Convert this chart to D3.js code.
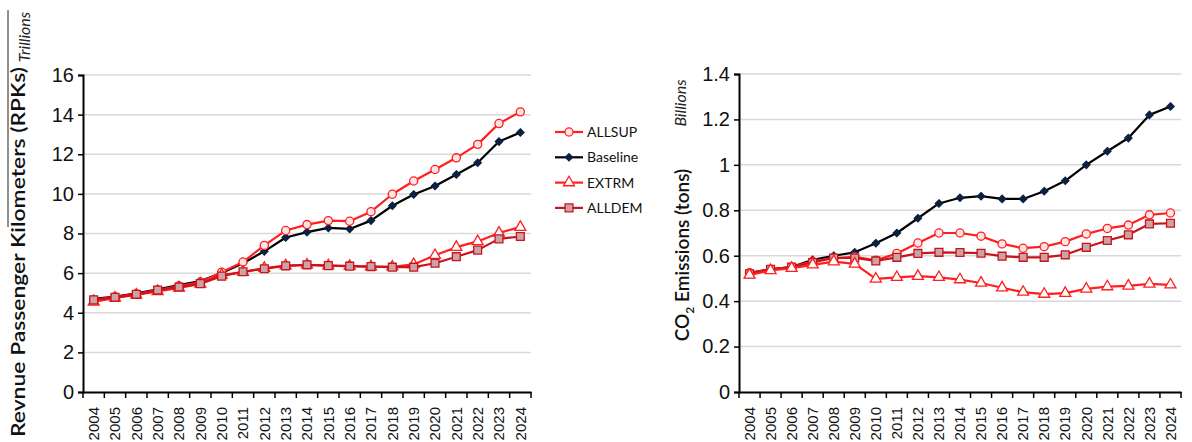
<!DOCTYPE html>
<html>
<head>
<meta charset="utf-8">
<script src="https://cdn.jsdelivr.net/npm/d3@7"></script>
<style>
  body { margin: 0; background: #fff; }
  svg { display: block; font-family: Lato, "Open Sans", sans-serif; }
</style>
</head>
<body>
<script>
const width = 1192;
const height = 442;

const years = ["2004", "2005", "2006", "2007", "2008", "2009", "2010", "2011", "2012", "2013", "2014",
  "2015", "2016", "2017", "2018", "2019", "2020", "2021", "2022", "2023", "2024"];

// revenue passenger km, trillions
const rpkAllsup = [4.65, 4.8, 4.95, 5.15, 5.35, 5.55, 6.05, 6.56, 7.4, 8.15, 8.45, 8.65, 8.62, 9.1, 9.98, 10.65, 11.23, 11.82, 12.5, 13.55, 14.14];
const rpkBaseline = [4.7, 4.82, 4.98, 5.18, 5.4, 5.6, 6.0, 6.5, 7.1, 7.8, 8.07, 8.28, 8.23, 8.65, 9.4, 9.97, 10.4, 10.98, 11.57, 12.64, 13.1];
const rpkExtrm = [4.55, 4.75, 4.9, 5.08, 5.25, 5.45, 5.9, 6.05, 6.25, 6.38, 6.42, 6.38, 6.35, 6.33, 6.32, 6.44, 6.9, 7.31, 7.6, 8.03, 8.32];
const rpkAlldem = [4.65, 4.78, 4.93, 5.15, 5.3, 5.47, 5.85, 6.07, 6.22, 6.37, 6.42, 6.38, 6.35, 6.33, 6.3, 6.3, 6.5, 6.83, 7.16, 7.73, 7.85];

// CO2 emissions, billions of tons
const co2Allsup = [0.525, 0.54, 0.55, 0.575, 0.59, 0.595, 0.58, 0.61, 0.656, 0.70, 0.70, 0.686, 0.652, 0.633, 0.64, 0.662, 0.696, 0.72, 0.735, 0.78, 0.788];
const co2Baseline = [0.525, 0.54, 0.55, 0.582, 0.6, 0.615, 0.655, 0.70, 0.765, 0.83, 0.855, 0.862, 0.85, 0.85, 0.884, 0.93, 1.0, 1.06, 1.118, 1.22, 1.257];
const co2Extrm = [0.515, 0.535, 0.545, 0.56, 0.574, 0.564, 0.498, 0.505, 0.51, 0.505, 0.495, 0.48, 0.459, 0.44, 0.431, 0.435, 0.454, 0.464, 0.467, 0.476, 0.472];
const co2Alldem = [0.52, 0.54, 0.55, 0.57, 0.59, 0.59, 0.577, 0.593, 0.61, 0.615, 0.614, 0.611, 0.598, 0.593, 0.593, 0.604, 0.637, 0.667, 0.692, 0.74, 0.743];

const rpkTicks = [0, 2, 4, 6, 8, 10, 12, 14, 16];
const co2Ticks = [0, 0.2, 0.4, 0.6, 0.8, 1, 1.2, 1.4];

const seriesNames = ["ALLSUP", "Baseline", "EXTRM", "ALLDEM"];

const styles = {
  ALLSUP: { line: "#ff1f1f", fill: "#fde3e3", stroke: "#ff1f1f", symbol: d3.symbolCircle, size: 52 },
  Baseline: { line: "#000", fill: "#0c2142", stroke: "#0c2142", symbol: d3.symbolDiamond2, size: 34 },
  EXTRM: { line: "#ff1f1f", fill: "#fff", stroke: "#ff1f1f", symbol: d3.symbolTriangle, size: 52 },
  ALLDEM: { line: "#c8141c", fill: "#cba3a5", stroke: "#c8141c", symbol: d3.symbolSquare, size: 62 }
};

const svg = d3.select("body").append("svg")
  .attr("width", width)
  .attr("height", height);

function drawChart(box, ticks, fmt, series) {
  const x = d3.scaleBand().domain(years).range([box.left, box.right]);
  const y = d3.scaleLinear().domain([0, ticks[ticks.length - 1]]).range([box.bottom, box.top]);
  const g = svg.append("g");

  g.selectAll("line.grid")
    .data(ticks.slice(1))
    .enter().append("line")
    .attr("class", "grid")
    .attr("x1", box.left).attr("x2", box.right)
    .attr("y1", d => y(d)).attr("y2", d => y(d))
    .attr("stroke", "#d9d9d9")
    .attr("stroke-width", 1.5);

  const yAxis = g.append("g")
    .attr("transform", `translate(${box.left},0)`)
    .call(d3.axisLeft(y).tickValues(ticks).tickFormat(fmt).tickSize(5).tickPadding(4));
  yAxis.select(".domain").attr("stroke-width", 2);
  yAxis.selectAll("line").attr("stroke-width", 1.5);
  yAxis.selectAll("text").attr("font-size", 20).attr("fill", "#111");

  const xAxis = g.append("g")
    .attr("transform", `translate(0,${box.bottom})`)
    .call(d3.axisBottom(x).tickSize(0).tickPadding(0));
  xAxis.select(".domain").attr("stroke-width", 2);
  xAxis.selectAll("text")
    .attr("font-size", 15)
    .attr("fill", "#111")
    .attr("text-anchor", "end")
    .attr("dy", "0.35em")
    .attr("transform", "translate(0,15) rotate(-90)")
    .attr("x", 0).attr("y", 0);

  // Excel-style tick marks sit between categories
  g.selectAll("line.xtick")
    .data(years.concat(["end"]))
    .enter().append("line")
    .attr("class", "xtick")
    .attr("x1", d => d === "end" ? box.right : x(d))
    .attr("x2", d => d === "end" ? box.right : x(d))
    .attr("y1", box.bottom).attr("y2", box.bottom + 6)
    .attr("stroke", "#000")
    .attr("stroke-width", 1.5);

  const line = d3.line()
    .x((d, i) => x(years[i]) + x.bandwidth() / 2)
    .y(d => y(d));

  series.forEach(s => {
    const st = styles[s.name];
    g.append("path")
      .datum(s.values)
      .attr("fill", "none")
      .attr("stroke", st.line)
      .attr("stroke-width", 2.2)
      .attr("stroke-linejoin", "round")
      .attr("d", line);
    g.selectAll(null)
      .data(s.values)
      .enter().append("path")
      .attr("d", d3.symbol().type(st.symbol).size(st.size))
      .attr("transform", (d, i) => `translate(${x(years[i]) + x.bandwidth() / 2},${y(d)})`)
      .attr("fill", st.fill)
      .attr("stroke", st.stroke)
      .attr("stroke-width", 1.3);
  });
}

drawChart({ left: 83, right: 531, top: 75, bottom: 392 }, rpkTicks, d3.format("d"), [
  { name: "Baseline", values: rpkBaseline },
  { name: "ALLSUP", values: rpkAllsup },
  { name: "EXTRM", values: rpkExtrm },
  { name: "ALLDEM", values: rpkAlldem }
]);

drawChart({ left: 739, right: 1181, top: 74, bottom: 392 }, co2Ticks, d => d === 0 || d === 1 ? String(d) : d3.format(".1f")(d), [
  { name: "Baseline", values: co2Baseline },
  { name: "ALLSUP", values: co2Allsup },
  { name: "ALLDEM", values: co2Alldem },
  { name: "EXTRM", values: co2Extrm }
]);

// legend
const legend = svg.append("g").attr("transform", "translate(555,132)");
seriesNames.forEach((name, i) => {
  const st = styles[name];
  const row = legend.append("g").attr("transform", `translate(0,${i * 25.3})`);
  row.append("line").attr("x1", 0).attr("x2", 28).attr("stroke", st.line).attr("stroke-width", 2.2);
  row.append("path")
    .attr("d", d3.symbol().type(st.symbol).size(st.size))
    .attr("transform", "translate(14,0)")
    .attr("fill", st.fill).attr("stroke", st.stroke).attr("stroke-width", 1.3);
  row.append("text").attr("x", 32).attr("dy", "0.35em")
    .attr("font-size", 14).attr("fill", "#111").text(name);
});

// axis titles
svg.append("line").attr("x1", 8).attr("x2", 8).attr("y1", 10).attr("y2", 227)
  .attr("stroke", "#222").attr("stroke-width", 1);

svg.append("text")
  .attr("transform", "translate(25,437) rotate(-90)")
  .attr("font-size", 19).attr("font-weight", 600).attr("fill", "#111")
  .attr("textLength", 370).attr("lengthAdjust", "spacingAndGlyphs")
  .text("Revnue Passenger Kilometers (RPKs)");

svg.append("text")
  .attr("transform", "translate(30,37) rotate(-90)")
  .attr("text-anchor", "middle")
  .attr("font-size", 16).attr("font-style", "italic").attr("fill", "#222")
  .text("Trillions");

svg.append("text")
  .attr("transform", "translate(686,103) rotate(-90)")
  .attr("text-anchor", "middle")
  .attr("font-size", 16).attr("font-style", "italic").attr("fill", "#222")
  .text("Billions");

const co2 = svg.append("text")
  .attr("transform", "translate(689,255) rotate(-90)")
  .attr("text-anchor", "middle")
  .attr("font-size", 19).attr("font-weight", 600).attr("fill", "#111");
co2.append("tspan").text("CO");
co2.append("tspan").attr("font-size", 12).attr("dy", 5).text("2");
co2.append("tspan").attr("dy", -5).text(" Emissions (tons)");
</script>
</body>
</html>
